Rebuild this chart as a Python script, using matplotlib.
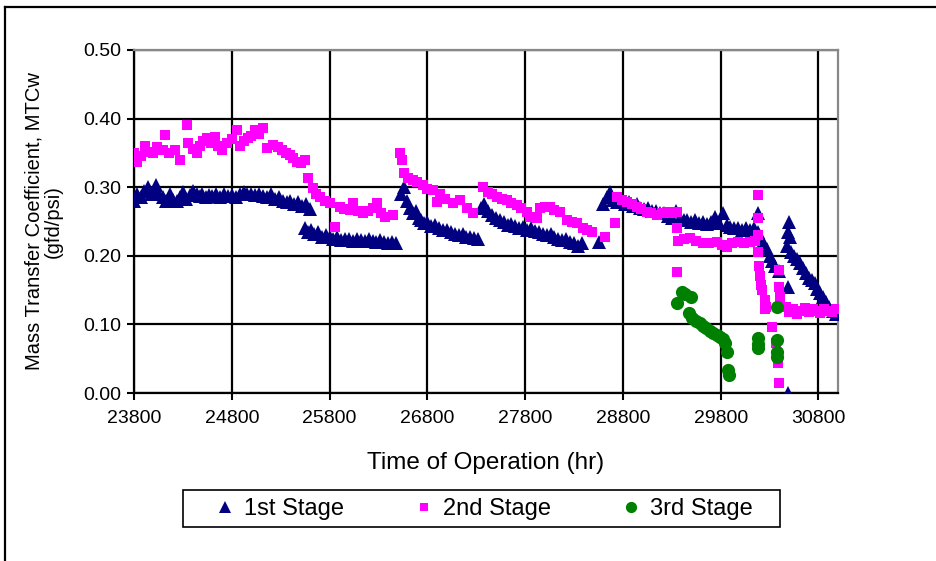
import numpy as np
import matplotlib.pyplot as plt
from matplotlib.patches import Rectangle

plt.rcParams['font.family'] = ['Liberation Sans', 'DejaVu Sans']

# 1st stage
s1_hr = [23800, 23830, 23870, 23900, 23940, 23970, 24000, 24030, 24060, 24100,
         24130, 24170, 24200, 24240, 24270, 24300, 24330, 24370, 24400, 24440,
         24470, 24500, 24540, 24570, 24600, 24640, 24680, 24720, 24760, 24800,
         24840, 24880, 24920, 24960, 25000, 25040, 25080, 25120, 25160, 25200,
         25240, 25280, 25320, 25360, 25400, 25440, 25480, 25520, 25560, 25600,
         25550, 25580, 25610, 25640, 25680, 25720, 25760, 25800, 25840, 25880,
         25920, 25960, 26000, 26040, 26080, 26120, 26160, 26200, 26240, 26280,
         26320, 26360, 26400, 26440, 26480,
         26530, 26560, 26590, 26620, 26650, 26680, 26710, 26740, 26770, 26800,
         26840, 26880, 26920, 26960, 27000, 27040, 27080, 27120, 27160, 27200,
         27240, 27280, 27320,
         27350, 27380, 27420, 27460, 27500, 27540, 27580, 27620, 27660, 27700,
         27740, 27780, 27820, 27860, 27900, 27940, 27980, 28020, 28060, 28100,
         28140, 28180, 28220, 28260, 28300, 28340, 28380, 28560,
         28600, 28640, 28670, 28700, 28740, 28780, 28820, 28860, 28900, 28940,
         28980, 29020, 29060, 29100, 29140, 29180, 29220, 29260, 29300, 29340,
         29380, 29420, 29460, 29500, 29540, 29580, 29620, 29660, 29700, 29740,
         29780, 29820, 29860, 29900, 29940, 29980, 30020, 30060, 30100, 30140,
         30180, 30180, 30230, 30270, 30300, 30330, 30360, 30400,
         30480, 30490, 30500, 30510, 30520, 30550, 30580, 30610, 30640, 30670,
         30700, 30730, 30760, 30790, 30820, 30850, 30880, 30910, 30950, 30980,
         30490, 30490]
s1_mtc = [0.280, 0.290, 0.285, 0.295, 0.300, 0.290, 0.295, 0.303, 0.290, 0.285,
          0.280, 0.290, 0.282, 0.280, 0.285, 0.293, 0.283, 0.288, 0.295, 0.290,
          0.287, 0.290, 0.285, 0.288, 0.287, 0.290, 0.285, 0.290, 0.287, 0.288,
          0.285, 0.290, 0.293, 0.290, 0.290, 0.288, 0.290, 0.287, 0.285, 0.290,
          0.283, 0.285, 0.280, 0.278, 0.280, 0.276, 0.278, 0.272, 0.275, 0.268,
          0.240, 0.235, 0.238, 0.232, 0.235, 0.228, 0.230, 0.228, 0.225, 0.227,
          0.223, 0.225, 0.225, 0.222, 0.224, 0.223, 0.222, 0.225, 0.222, 0.220,
          0.223, 0.220, 0.218, 0.220, 0.218,
          0.290, 0.300, 0.280, 0.270, 0.262, 0.265, 0.255, 0.252, 0.248, 0.250,
          0.243, 0.245, 0.240, 0.237, 0.238, 0.235, 0.232, 0.230, 0.232, 0.228,
          0.228, 0.226, 0.225,
          0.270, 0.275, 0.265, 0.260, 0.255, 0.252, 0.250, 0.245, 0.247, 0.243,
          0.240, 0.242, 0.238, 0.240, 0.236, 0.235, 0.232, 0.230, 0.232, 0.228,
          0.225, 0.223, 0.225, 0.220, 0.218, 0.215, 0.218, 0.220,
          0.275, 0.285, 0.293, 0.282, 0.278, 0.283, 0.275, 0.278, 0.272, 0.275,
          0.270, 0.268, 0.270, 0.266, 0.265, 0.262, 0.262, 0.258, 0.255, 0.265,
          0.255, 0.252, 0.252, 0.250, 0.252, 0.248, 0.250, 0.247, 0.250, 0.257,
          0.248, 0.262, 0.245, 0.242, 0.240, 0.240, 0.238, 0.240, 0.238, 0.240,
          0.262, 0.235, 0.220, 0.210, 0.200, 0.192, 0.185, 0.178,
          0.215, 0.235, 0.250, 0.228, 0.205, 0.200, 0.195, 0.190, 0.182, 0.175,
          0.168, 0.165, 0.160, 0.152, 0.146, 0.140, 0.132, 0.125, 0.120, 0.115,
          0.155, 0.000]

# 2nd stage
s2_hr = [23800, 23830, 23870, 23912, 23950, 23994, 24040, 24096, 24117, 24160,
         24219, 24270, 24342, 24352, 24400, 24444, 24475, 24510, 24546, 24590,
         24628, 24660, 24699, 24750, 24800, 24853, 24883, 24920, 24965, 25000,
         25037, 25080, 25118, 25159, 25221, 25270, 25313, 25350, 25394, 25430,
         25466, 25510, 25548, 25578, 25629, 25660, 25701, 25750, 25803, 25854,
         25905, 25950, 26008, 26038, 26090, 26140, 26190, 26243, 26283, 26330,
         26365, 26447,
         26519, 26540, 26560, 26600, 26650, 26692, 26754, 26800, 26856, 26897,
         26927, 26980, 27060, 27132, 27203, 27265,
         27367, 27418, 27460, 27510, 27560, 27612, 27660, 27714, 27760, 27816,
         27849, 27919, 27949, 28000, 28052, 28100, 28154, 28225, 28280, 28327,
         28389, 28430, 28481, 28614, 28716,
         28736, 28790, 28838, 28890, 28940, 28990, 29043, 29090, 29145, 29200,
         29247, 29300, 29349, 29349, 29360, 29349,
         29420, 29482, 29550, 29615, 29680, 29758, 29810, 29860, 29920, 29980,
         30040, 30100, 30150,
         30177, 30177, 30177, 30177, 30190, 30200, 30210, 30220, 30250, 30250,
         30260, 30330, 30370, 30385, 30400, 30400, 30400, 30410, 30400,
         30470, 30500, 30540, 30580, 30620, 30660, 30700, 30740, 30780, 30820,
         30860, 30900, 30940, 30980]
s2_mtc = [0.350, 0.337, 0.345, 0.360, 0.352, 0.350, 0.358, 0.354, 0.376, 0.350,
          0.354, 0.340, 0.390, 0.364, 0.355, 0.350, 0.360, 0.368, 0.372, 0.365,
          0.373, 0.360, 0.354, 0.364, 0.370, 0.383, 0.360, 0.368, 0.372, 0.375,
          0.383, 0.378, 0.386, 0.357, 0.362, 0.358, 0.354, 0.350, 0.347, 0.342,
          0.337, 0.335, 0.340, 0.313, 0.299, 0.290, 0.286, 0.280, 0.277, 0.242,
          0.271, 0.268, 0.267, 0.277, 0.265, 0.262, 0.266, 0.270, 0.277, 0.262,
          0.257, 0.260,
          0.350, 0.340, 0.320, 0.313, 0.310, 0.308, 0.303, 0.298, 0.296, 0.278,
          0.290, 0.283, 0.277, 0.281, 0.270, 0.262,
          0.300, 0.293, 0.290, 0.286, 0.283, 0.281, 0.277, 0.274, 0.270, 0.264,
          0.257, 0.255, 0.270, 0.271, 0.271, 0.267, 0.264, 0.252, 0.250, 0.248,
          0.240, 0.237, 0.235, 0.228, 0.248,
          0.286, 0.282, 0.278, 0.275, 0.271, 0.268, 0.264, 0.262, 0.260, 0.262,
          0.264, 0.262, 0.264, 0.240, 0.222, 0.176,
          0.224, 0.226, 0.222, 0.219, 0.218, 0.220, 0.216, 0.213, 0.218, 0.220,
          0.218, 0.220, 0.222,
          0.289, 0.255, 0.230, 0.205, 0.185, 0.170, 0.158, 0.150, 0.135, 0.122,
          0.125, 0.096, 0.073, 0.044, 0.015, 0.180, 0.155, 0.140, 0.125,
          0.125, 0.118, 0.122, 0.115, 0.120, 0.124, 0.118, 0.122, 0.120, 0.116,
          0.123, 0.120, 0.118, 0.122]

# 3rd stage
s3_hr = [29350, 29400, 29440, 29500, 29480, 29510, 29550, 29585, 29620, 29655,
         29690, 29720, 29760, 29790, 29820, 29840, 29860, 29870, 29890,
         30180, 30180, 30180, 30380, 30380, 30380, 30380]
s3_mtc = [0.131, 0.147, 0.145, 0.140, 0.117, 0.109, 0.105, 0.102, 0.098, 0.095,
          0.090, 0.087, 0.085, 0.082, 0.078, 0.073, 0.060, 0.034, 0.026,
          0.080, 0.072, 0.066, 0.125, 0.077, 0.060, 0.052]

series_labels = ['1st Stage', '2nd Stage', '3rd Stage']

fig = plt.figure(figsize=(9.37, 5.61), dpi=100)
ax = fig.add_axes([134 / 937, 1 - 393 / 561, (838 - 134) / 937, (393 - 50) / 561])

h1, = ax.plot(s1_hr, s1_mtc, linestyle='None', marker='^', color='#000080', markersize=9.5,
              markeredgewidth=0, zorder=3)
h2, = ax.plot(s2_hr, s2_mtc, linestyle='None', marker='s', color='#FF00FF', markersize=7.5,
              markeredgewidth=0, zorder=4)
h3, = ax.plot(s3_hr, s3_mtc, linestyle='None', marker='o', color='#008000', markersize=9.5,
              markeredgewidth=0, zorder=5)

ax.set_xlim(23800, 31000)
ax.set_ylim(0, 0.5)
ax.set_xticks(np.arange(23800, 31000, 1000))
ax.set_yticks(np.arange(0, 0.51, 0.1))
ax.yaxis.set_major_formatter(plt.FormatStrFormatter('%.2f'))
ax.tick_params(labelsize=14, direction='out', length=5, width=1.5, color='black', pad=4)
ax.tick_params(axis='x', pad=7)
ax.grid(True, color='black', linewidth=1.6)
ax.set_axisbelow(True)
for side in ['left', 'bottom']:
    ax.spines[side].set_color('black')
    ax.spines[side].set_linewidth(1.6)
for side in ['top', 'right']:
    ax.spines[side].set_color('#888888')
    ax.spines[side].set_linewidth(1.6)

ax.set_xlabel('Time of Operation (hr)', fontsize=17.5, labelpad=18)
ax.set_ylabel('Mass Transfer Coefficient, MTCw\n(gfd/psi)', fontsize=14.5,
              labelpad=15, linespacing=1.0)

# legend box below the chart
fig.patches.append(Rectangle((183 / 937, 1 - 527 / 561), 597 / 937, 37 / 561,
                             transform=fig.transFigure, facecolor='white',
                             edgecolor='black', linewidth=1.2))
legend_marker_x = [225, 424, 631]
fs = 17
for h, lab, mx in zip([h1, h2, h3], series_labels, legend_marker_x):
    leg = fig.legend([h], [lab], loc='center left',
                     bbox_to_anchor=((mx - fs * 100 / 72 * 0.5) / 937, 1 - 509 / 561),
                     frameon=False, fontsize=fs, handletextpad=0.3, handlelength=1.0,
                     borderpad=0, borderaxespad=0, markerscale=0.85)

# outer chart border (top and left)
fig.add_artist(plt.Line2D([5 / 937, 5 / 937], [0, 1 - 7 / 561], transform=fig.transFigure,
                          color='black', linewidth=1.6))
fig.add_artist(plt.Line2D([5 / 937, 1], [1 - 7 / 561, 1 - 7 / 561], transform=fig.transFigure,
                          color='black', linewidth=1.6))

fig.savefig('out.png', dpi=100)
